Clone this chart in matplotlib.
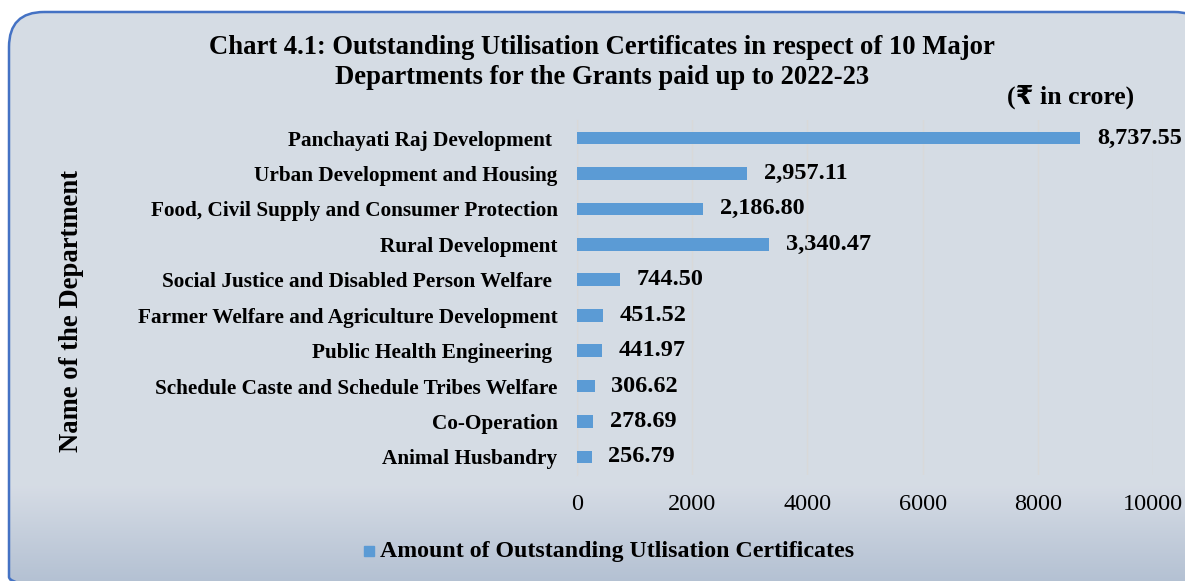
import matplotlib.pyplot as plt
import numpy as np
from matplotlib.patches import FancyBboxPatch

plt.rcParams['font.family'] = ['Liberation Serif', 'DejaVu Serif']

departments = ['Panchayati Raj Development ',
               'Urban Development and Housing',
               'Food, Civil Supply and Consumer Protection',
               'Rural Development',
               'Social Justice and Disabled Person Welfare ',
               'Farmer Welfare and Agriculture Development',
               'Public Health Engineering ',
               'Schedule Caste and Schedule Tribes Welfare',
               'Co-Operation',
               'Animal Husbandry']
amounts = [8737.55, 2957.11, 2186.80, 3340.47, 744.50,
           451.52, 441.97, 306.62, 278.69, 256.79]
xticks = [0, 2000, 4000, 6000, 8000, 10000]

fig = plt.figure(figsize=(11.85, 5.81), dpi=100)
fig.patch.set_facecolor('white')

# rounded background panel with a darker band at the bottom
bg = fig.add_axes([0, 0, 1, 1], zorder=-1)
bg.set_xlim(0, 1185)
bg.set_ylim(581, 0)
bg.axis('off')
grad = np.ones((581, 1))
fade = np.linspace(0, 1, 581 - 485)
grad[485:, 0] = 1 - fade
top_col = np.array([0.839, 0.863, 0.898])
bot_col = np.array([0.706, 0.757, 0.827])
img = (grad[..., None] * top_col + (1 - grad[..., None]) * bot_col)
img = np.repeat(img, 2, axis=1)
panel = FancyBboxPatch((9, 12), 1200, 600, boxstyle='round,pad=0,rounding_size=35',
                       facecolor='none', edgecolor='#4472C4', linewidth=1.8)
bg.add_patch(panel)
im = bg.imshow(img, extent=(0, 1185, 581, 0), aspect='auto', zorder=0)
im.set_clip_path(panel)

ax = fig.add_axes([577 / 1185, 1 - 474.7 / 581, 576 / 1185, 354.4 / 581])
ax.patch.set_alpha(0)
y = np.arange(len(departments))
ax.barh(y, amounts, height=0.36, color='#5B9BD5', zorder=3)
ax.set_ylim(len(departments) - 0.5, -0.5)
ax.set_xlim(0, 10000)
ax.set_xticks(xticks)
ax.set_xticklabels([str(t) for t in xticks], fontsize=17.5)
ax.set_yticks(y)
ax.set_yticklabels(departments, fontsize=15.3, fontweight='bold')
ax.tick_params(length=0, pad=14)
ax.tick_params(axis='x', pad=14)
ax.grid(axis='x', color='#D9D9D9', linewidth=1, zorder=0)
for s in ['top', 'right', 'bottom']:
    ax.spines[s].set_visible(False)
ax.spines['left'].set_color('#D9D9D9')

for yi, v in zip(y, amounts):
    ax.annotate(f'{v:,.2f}', (v, yi), xytext=(12, 0), textcoords='offset points',
                va='center', ha='left', fontsize=17.5, fontweight='bold', zorder=4)

fig.text(602 / 1185, 1 - 47 / 581, 'Chart 4.1: Outstanding Utilisation Certificates in respect of 10 Major',
         ha='center', va='center', fontsize=19.2, fontweight='bold')
fig.text(602 / 1185, 1 - 78 / 581, 'Departments for the Grants paid up to 2022-23',
         ha='center', va='center', fontsize=19.2, fontweight='bold')
fig.text(1134 / 1185, 1 - 97 / 581, '(₹ in crore)', ha='right', va='center', fontsize=18.5,
         fontweight='bold', family=['Liberation Serif', 'DejaVu Sans'])
fig.text(72 / 1185, 1 - 311 / 581, 'Name of the Department', rotation=90, ha='center',
         va='center', fontsize=19.2, fontweight='bold')

# legend
fig.patches.append(plt.Rectangle((364 / 1185, 1 - 556 / 581), 10 / 1185, 10 / 581,
                                 transform=fig.transFigure, color='#5B9BD5'))
fig.text(380 / 1185, 1 - 551 / 581, 'Amount of Outstanding Utlisation Certificates',
         ha='left', va='center', fontsize=17.2, fontweight='bold')

fig.savefig('out.png', dpi=100)
